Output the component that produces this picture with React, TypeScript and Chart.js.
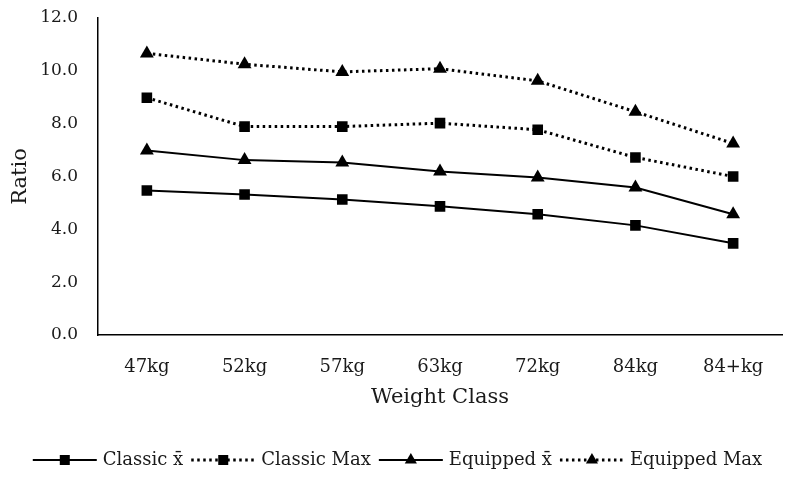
import React, { useEffect, useRef } from "react";
import { Chart, registerables } from "chart.js";

Chart.register(...registerables);

const categories = ["47kg", "52kg", "57kg", "63kg", "72kg", "84kg", "84+kg"];
const classicMean = [5.47, 5.32, 5.13, 4.87, 4.57, 4.15, 3.47];
const classicMax = [8.98, 7.89, 7.89, 8.02, 7.77, 6.72, 6.0];
const equippedMean = [6.98, 6.62, 6.53, 6.19, 5.96, 5.58, 4.57];
const equippedMax = [10.66, 10.25, 9.96, 10.08, 9.62, 8.45, 7.25];
const seriesNames = ["Classic x\u0304", "Classic Max", "Equipped x\u0304", "Equipped Max"];

const FONT = "'DejaVu Serif', serif";
const TEXT = "#1a1a1a";
const DOT: number[] = [2.5, 3.5];

const legendPlugin = {
  id: "lineLegend",
  afterDraw(chart: any) {
    const ctx = chart.ctx as CanvasRenderingContext2D;
    const ds = chart.data.datasets;
    const lineLen = 64;
    const gapText = 6;
    const gapItem = 8;
    ctx.save();
    ctx.font = `18px ${FONT}`;
    const widths = ds.map((d: any) => ctx.measureText(d.label).width);
    const total =
      widths.reduce((a: number, w: number) => a + w + lineLen + gapText, 0) +
      gapItem * (ds.length - 1);
    let x = (chart.width - total) / 2;
    const y = 460;
    ds.forEach((d: any, i: number) => {
      ctx.strokeStyle = "#000";
      ctx.lineWidth = d.borderWidth;
      ctx.setLineDash(d.borderDash || []);
      ctx.beginPath();
      ctx.moveTo(x, y);
      ctx.lineTo(x + lineLen, y);
      ctx.stroke();
      ctx.setLineDash([]);
      ctx.fillStyle = "#000";
      const cx = x + lineLen / 2;
      if (d.pointStyle === "rect") {
        const s = 10;
        ctx.fillRect(cx - s / 2, y - s / 2, s, s);
      } else {
        const r = 7;
        ctx.beginPath();
        ctx.moveTo(cx, y - r);
        ctx.lineTo(cx + r * 0.866, y + r * 0.5);
        ctx.lineTo(cx - r * 0.866, y + r * 0.5);
        ctx.closePath();
        ctx.fill();
      }
      ctx.fillStyle = TEXT;
      ctx.textBaseline = "middle";
      ctx.textAlign = "left";
      ctx.fillText(d.label, x + lineLen + gapText, y);
      x += lineLen + gapText + widths[i] + gapItem;
    });
    ctx.restore();
  },
};

export default function App() {
  const ref = useRef<HTMLCanvasElement>(null);
  useEffect(() => {
    document.body.style.margin = "0";
    const mk = (label: string, data: number[], dotted: boolean, style: string) => ({
      label,
      data,
      borderColor: "#000",
      backgroundColor: "#000",
      borderWidth: dotted ? 3 : 2,
      borderDash: dotted ? DOT : [],
      pointStyle: style,
      pointRadius: style === "rect" ? 7.5 : 8,
      pointBackgroundColor: "#000",
      pointBorderColor: "#000",
      pointBorderWidth: 0,
      tension: 0,
      fill: false,
    });
    const chart = new Chart(ref.current!, {
      type: "line",
      data: {
        labels: categories,
        datasets: [
          mk(seriesNames[0], classicMean, false, "rect"),
          mk(seriesNames[1], classicMax, true, "rect"),
          mk(seriesNames[2], equippedMean, false, "triangle"),
          mk(seriesNames[3], equippedMax, true, "triangle"),
        ],
      },
      options: {
        animation: false,
        responsive: false,
        devicePixelRatio: 1,
        layout: { padding: { left: 8, right: 13, top: 18, bottom: 55 } },
        plugins: { legend: { display: false }, tooltip: { enabled: false } },
        scales: {
          x: {
            offset: true,
            grid: { display: false, drawTicks: false },
            border: { display: true, color: "#000", width: 1.5 },
            ticks: { color: TEXT, font: { family: FONT, size: 18 }, padding: 22 },
            title: {
              display: true,
              text: "Weight Class",
              color: TEXT,
              font: { family: FONT, size: 21 },
              padding: { top: 0, bottom: 16 },
            },
            afterFit: (s: any) => {
              s.height = 91;
            },
          },
          y: {
            min: 0,
            max: 12,
            grid: { display: false, drawTicks: false },
            border: { display: true, color: "#000", width: 1.5 },
            ticks: {
              stepSize: 2,
              color: TEXT,
              font: { family: FONT, size: 17 },
              padding: 20,
              callback: (v: any) => Number(v).toFixed(1),
            },
            title: {
              display: true,
              text: "Ratio",
              color: TEXT,
              font: { family: FONT, size: 21 },
              padding: { top: 0, bottom: 0 },
            },
            afterFit: (s: any) => {
              s.width = 90;
              s.paddingTop = 0;
              s.paddingBottom = 0;
            },
          },
        },
      },
      plugins: [legendPlugin],
    });
    return () => chart.destroy();
  }, []);
  return <canvas ref={ref} width={795} height={481} style={{ display: "block" }} />;
}
